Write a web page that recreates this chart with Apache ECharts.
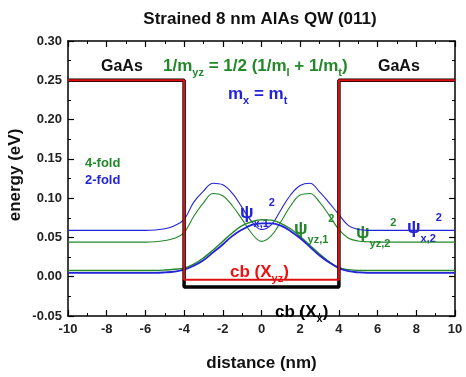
<!DOCTYPE html>
<html>
<head>
<meta charset="utf-8">
<script src="https://cdn.jsdelivr.net/npm/echarts@6/dist/echarts.min.js"></script>
<style>
    html, body { margin: 0; padding: 0; background: #fff; }
    #p1 { width: 466px; height: 377px; }
</style>
</head>
<body>
<div id="p1"></div>
<script>
// distance grid (nm) shared by the four probability curves
var distance = [-10, -6, -5.5, -5, -4.5, -4, -3.5, -3, -2.5, -2, -1.5, -1, -0.5, 0, 0.5, 1, 1.5, 2, 2.5, 3, 3.5, 4, 4.5, 5, 5.5, 6, 10];
var twoFoldHigh = [0.059, 0.059, 0.0595, 0.061, 0.065, 0.073, 0.095, 0.109, 0.119, 0.117, 0.106, 0.088, 0.070, 0.060, 0.066, 0.085, 0.104, 0.116, 0.119, 0.108, 0.094, 0.079, 0.065, 0.060, 0.059, 0.059, 0.059];
var fourFoldHigh = [0.044, 0.044, 0.0445, 0.046, 0.049, 0.056, 0.077, 0.094, 0.106, 0.103, 0.090, 0.073, 0.055, 0.045, 0.052, 0.070, 0.090, 0.104, 0.106, 0.095, 0.078, 0.060, 0.049, 0.0455, 0.0445, 0.044, 0.044];
var twoFoldLow = [0.005, 0.005, 0.005, 0.0055, 0.0065, 0.009, 0.014, 0.021, 0.031, 0.041, 0.052, 0.060, 0.066, 0.068, 0.068, 0.065, 0.058, 0.049, 0.038, 0.027, 0.018, 0.011, 0.007, 0.0055, 0.005, 0.005, 0.005];
var fourFoldLow = [0.008, 0.008, 0.008, 0.0085, 0.0095, 0.011, 0.016, 0.024, 0.034, 0.045, 0.056, 0.065, 0.070, 0.0725, 0.072, 0.068, 0.061, 0.051, 0.040, 0.029, 0.019, 0.0115, 0.009, 0.008, 0.008, 0.008, 0.008];

// band edge profiles
var wellX = [-10, -4, -4, 4, 4, 10];
var cbXx = [0.25, 0.25, -0.013, -0.013, 0.25, 0.25];
var cbXyz = [0.25, 0.25, -0.004, -0.004, 0.25, 0.25];

var FONT = '"Liberation Sans", Arial, sans-serif';
var GREEN = '#23882a';
var BLUE = '#2323d8';

function pairs(xs, ys) {
    return xs.map(function (x, i) { return [x, ys[i]]; });
}

function curve(name, ys, color, width) {
    return {
        name: name,
        type: 'line',
        data: pairs(distance, ys),
        smooth: 0.4,
        showSymbol: false,
        silent: true,
        lineStyle: { color: color, width: width }
    };
}

function axisCommon(extra) {
    var a = {
        axisLine: { show: true, onZero: false, lineStyle: { color: '#000', width: 1.5 } },
        axisTick: { show: true, inside: true, length: 6, lineStyle: { color: '#000', width: 1.2 } },
        minorTick: { show: true, splitNumber: 2, length: 3, lineStyle: { color: '#000', width: 1 } },
        splitLine: { show: false },
        axisLabel: { show: false }
    };
    for (var k in extra) a[k] = extra[k];
    return a;
}

// rich text with sub/superscripts
function richLabel(x, y, text, color, size, subSize, lh) {
    return {
        type: 'text', x: x, y: y,
        style: {
            text: text,
            fill: color, verticalAlign: 'middle',
            rich: {
                m: { fontFamily: FONT, fontWeight: 'bold', fontSize: size, lineHeight: lh, fill: color },
                s: { fontFamily: FONT, fontWeight: 'bold', fontSize: subSize, verticalAlign: 'bottom', fill: color },
                u: { fontFamily: FONT, fontWeight: 'bold', fontSize: subSize, verticalAlign: 'top', fill: color }
            }
        }
    };
}

var myChart1 = echarts.init(document.getElementById('p1'));
var option1 = {
    backgroundColor: '#fff',
    animation: false,
    title: {
        text: 'Strained 8 nm AlAs QW (011)',
        left: 255,
        textAlign: 'center',
        top: 6,
        textStyle: { fontFamily: FONT, fontWeight: 'bold', fontSize: 17, color: '#111' }
    },
    grid: { left: 68, right: 11, top: 41, bottom: 53 },
    xAxis: [
        axisCommon({
            type: 'value', min: -10, max: 10, interval: 2, position: 'bottom',
            axisLabel: { show: true, margin: 7, fontFamily: FONT, fontWeight: 'bold', fontSize: 13, color: '#222' },
            name: 'distance (nm)', nameLocation: 'middle', nameGap: 39,
            nameTextStyle: { fontFamily: FONT, fontWeight: 'bold', fontSize: 17, color: '#111' }
        }),
        axisCommon({ type: 'value', min: -10, max: 10, interval: 2, position: 'top' })
    ],
    yAxis: [
        axisCommon({
            type: 'value', min: -0.05, max: 0.30, interval: 0.05, position: 'left',
            axisLabel: {
                show: true, margin: 6, fontFamily: FONT, fontWeight: 'bold', fontSize: 13, color: '#222',
                formatter: function (v) { return v.toFixed(2); }
            }
        }),
        axisCommon({ type: 'value', min: -0.05, max: 0.30, interval: 0.05, position: 'right' })
    ],
    series: [
        curve('4-fold high', fourFoldHigh, GREEN, 1.1),
        curve('2-fold high', twoFoldHigh, BLUE, 1.1),
        curve('4-fold low', fourFoldLow, GREEN, 1.4),
        curve('2-fold low', twoFoldLow, BLUE, 1.8),
        {
            name: 'cb (Xx)', type: 'line', data: pairs(wellX, cbXx), showSymbol: false, silent: true,
            lineStyle: { color: '#000', width: 3.5 }
        },
        {
            name: 'cb (Xyz)', type: 'line', data: pairs(wellX, cbXyz), showSymbol: false, silent: true,
            lineStyle: { color: '#e01010', width: 2 }
        }
    ],
    graphic: [
        {
            type: 'text', x: 15, y: 175, rotation: Math.PI / 2,
            style: { text: 'energy (eV)', fill: '#111', font: 'bold 17px ' + FONT, align: 'center', verticalAlign: 'middle' }
        },
        {
            type: 'text', x: 101, y: 67,
            style: { text: 'GaAs', fill: '#111', font: 'bold 16px ' + FONT, verticalAlign: 'middle' }
        },
        {
            type: 'text', x: 378, y: 67,
            style: { text: 'GaAs', fill: '#111', font: 'bold 16px ' + FONT, verticalAlign: 'middle' }
        },
        {
            type: 'text', x: 85, y: 163,
            style: { text: '4-fold', fill: GREEN, font: 'bold 13px ' + FONT, verticalAlign: 'middle' }
        },
        {
            type: 'text', x: 85, y: 180,
            style: { text: '2-fold', fill: BLUE, font: 'bold 13px ' + FONT, verticalAlign: 'middle' }
        },
        richLabel(163, 66, '{m|1/m}{s|yz}{m| = 1/2 (1/m}{s|l}{m| + 1/m}{s|t}{m|)}', GREEN, 17, 11, 25),
        richLabel(228, 94, '{m|m}{s|x}{m| = m}{s|t}', BLUE, 17, 11, 25),
        richLabel(230, 272, '{m|cb (X}{s|yz}{m|)}', '#ee1111', 17, 11, 24),
        richLabel(275, 312, '{m|cb (X}{s|x}{m|)}', '#000', 17, 11, 24)
    ]
};

// psi^2 labels: [x, y, subscript, colour]
var psiLabels = [
    [240, 213, 'x,1', BLUE],
    [294, 229, 'yz,1', GREEN],
    [356, 233, 'yz,2', GREEN],
    [407, 228, 'x,2', BLUE]
];
psiLabels.forEach(function (p) {
    option1.graphic.push(richLabel(p[0], p[1], '{m|ψ}{s|' + p[2] + '}{u|2}', p[3], 18, 11, 32));
});

myChart1.setOption(option1);
</script>
</body>
</html>
